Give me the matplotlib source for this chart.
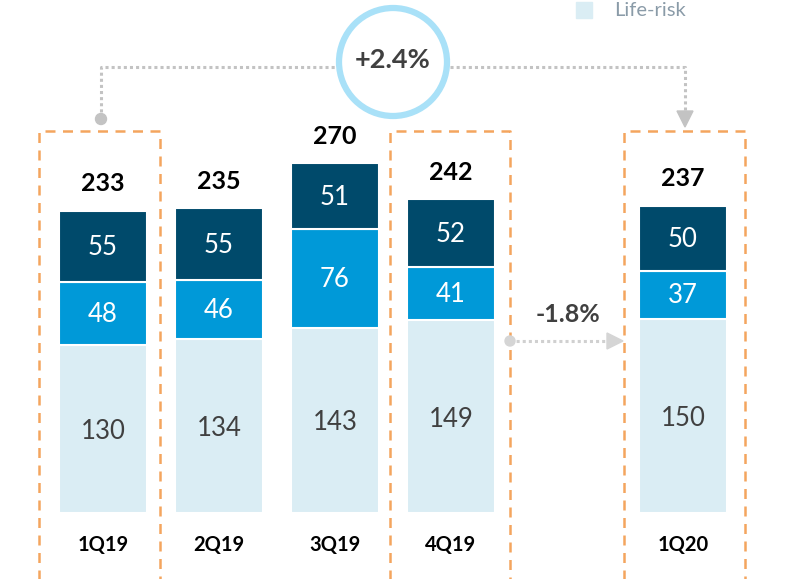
import matplotlib
matplotlib.use("Agg")
import matplotlib.pyplot as plt
from matplotlib.patches import Ellipse, Polygon
import numpy as np

categories = ["1Q19", "2Q19", "3Q19", "4Q19", "1Q20"]
life_risk = [130, 134, 143, 149, 150]
middle = [48, 46, 76, 41, 37]
top = [55, 55, 51, 52, 50]
totals = [233, 235, 270, 242, 237]
positions = [0, 1, 2, 3, 5]
yoy_label = "+2.4%"
qoq_label = "-1.8%"
legend_label = "Life-risk"

C_LIGHT = "#DAEDF4"
C_MID = "#0099D8"
C_DARK = "#004A6B"
C_ORANGE = "#F4A55E"
C_GRAY = "#C3C3C3"
FONT = ["Lato", "DejaVu Sans"]

W, H = 798, 579
fig = plt.figure(figsize=(W / 100, H / 100), dpi=100)
ax = fig.add_axes([0, 0, 1, 1])
ax.axis("off")

# pixel mapping: px_x = 103 + 116*pos ; px_y = 513 - 1.296*v
X0, DX, Y0, DY = 103.0, 116.0, 513.0, 1.296
ax.set_xlim(-X0 / DX, (W - X0) / DX)
ax.set_ylim((Y0 - H) / DY, Y0 / DY)


def P(x, y):
    return ((x - X0) / DX, (Y0 - y) / DY)


bw = 88 / DX
pos = np.array(positions, dtype=float)
lr = np.array(life_risk)
md = np.array(middle)
tp = np.array(top)
ax.bar(pos, lr, bw, color=C_LIGHT, edgecolor="white", linewidth=1.5, zorder=2)
ax.bar(pos, md, bw, bottom=lr, color=C_MID, edgecolor="white", linewidth=1.5, zorder=2)
ax.bar(pos, tp, bw, bottom=lr + md, color=C_DARK, edgecolor="white", linewidth=1.5, zorder=2)

for i, p in enumerate(pos):
    ax.text(p, lr[i] / 2 - 2, str(lr[i]), ha="center", va="center", fontsize=18.5,
            color="#404040", family=FONT, zorder=3)
    ax.text(p, lr[i] + md[i] / 2 - 1, str(md[i]), ha="center", va="center", fontsize=18.5,
            color="white", family=FONT, zorder=3)
    ax.text(p, lr[i] + md[i] + tp[i] / 2 - 1, str(tp[i]), ha="center", va="center", fontsize=18.5,
            color="white", family=FONT, zorder=3)
    ax.text(p, totals[i] + 12, str(totals[i]), ha="center", va="bottom", fontsize=18,
            fontweight="bold", color="black", family=FONT, zorder=3)
    ax.text(p, P(0, 545)[1], categories[i], ha="center", va="center", fontsize=14.5,
            fontweight="bold", color="black", family=FONT, zorder=3)

# orange dashed boxes
for (l, r) in [(39, 160), (390, 510), (624, 745)]:
    xs = [P(l, 0)[0], P(l, 0)[0], P(r, 0)[0], P(r, 0)[0]]
    ys = [P(0, 585)[1], P(0, 131)[1], P(0, 131)[1], P(0, 585)[1]]
    ax.plot(xs, ys, color=C_ORANGE, lw=1.8, ls=(0, (4, 3)), zorder=1, clip_on=False)

# top connector (gray dotted)
ax.plot(*zip(P(101, 118), P(101, 67), P(336, 67)), color=C_GRAY, lw=2.2, ls=(0, (1, 1)), zorder=1)
ax.plot(*zip(P(450, 67), P(685, 67), P(685, 112)), color=C_GRAY, lw=2.2, ls=(0, (1, 1)), zorder=1)
ax.add_patch(Ellipse(P(101, 119), 11 / DX, 11 / DY, color=C_GRAY, zorder=2))
ax.add_patch(Polygon([P(677, 111), P(693, 111), P(685, 127)], closed=True, color=C_GRAY, zorder=2))

# circle
ax.add_patch(Ellipse(P(393, 62), 108 / DX, 108 / DY, fill=False, edgecolor="#A9E1F8", lw=4.5, zorder=3))
ax.text(*P(393, 60), yoy_label, ha="center", va="center", fontsize=19.5, fontweight="bold",
        color="#404040", family=FONT, zorder=4)

# -1.8% arrow
ax.plot(*zip(P(510, 341), P(610, 341)), color="#D0D0D0", lw=2.2, ls=(0, (1, 1)), zorder=1)
ax.add_patch(Ellipse(P(510, 341), 10 / DX, 10 / DY, color="#D5D5D5", zorder=2))
ax.add_patch(Polygon([P(607, 333), P(607, 349), P(623, 341)], closed=True, color="#D5D5D5", zorder=2))
ax.text(*P(568, 315), qoq_label, ha="center", va="center", fontsize=18, fontweight="bold",
        color="#404040", family=FONT, zorder=4)

# legend fragment
ax.add_patch(Polygon([P(576, 2), P(592, 2), P(592, 18), P(576, 18)], closed=True,
                     color=C_LIGHT, zorder=2, clip_on=False))
ax.text(*P(614, 10), legend_label, ha="left", va="center", fontsize=14.5,
        color="#8A9BA8", family=FONT, zorder=4)

fig.savefig("out.png", dpi=100)
